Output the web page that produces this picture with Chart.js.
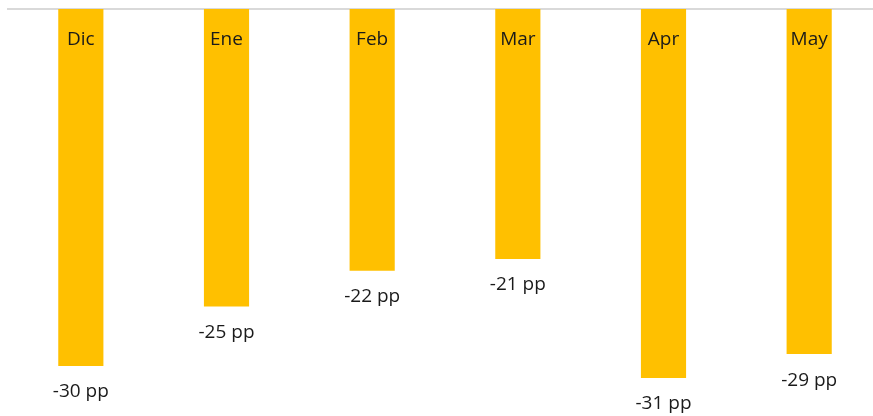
<!DOCTYPE html>
<html>
<head>
<meta charset="utf-8">
<script src="https://cdn.jsdelivr.net/npm/chart.js@4.4.0/dist/chart.umd.min.js"></script>
<style>
  html, body { margin: 0; padding: 0; background: #fff; overflow: hidden; }
  #wrap { width: 882px; height: 416px; }
</style>
</head>
<body>
<div id="wrap"><canvas id="gapChart"></canvas></div>
<script>
const months = ["Dic", "Ene", "Feb", "Mar", "Apr", "May"];
const gapValues = [-30, -25, -22, -21, -31, -29];
const valueLabels = ["-30 pp", "-25 pp", "-22 pp", "-21 pp", "-31 pp", "-29 pp"];

// etiquetas: mes arriba dentro de la barra, valor debajo del extremo
const barLabels = {
  id: "barLabels",
  afterDatasetsDraw(chart) {
    const c = chart.ctx;
    const bars = chart.getDatasetMeta(0).data;
    c.save();
    c.fillStyle = "#1a1a1a";
    c.textAlign = "center";
    c.textBaseline = "middle";
    c.font = "19px 'Open Sans'";
    bars.forEach((bar, i) => {
      c.fillText(months[i], bar.x, chart.chartArea.top + 31);
      c.fillText(valueLabels[i], bar.x, bar.y + 26);
    });
    c.restore();
  }
};

const ctx = document.getElementById("gapChart").getContext("2d");
new Chart(ctx, {
  type: "bar",
  data: {
    labels: months,
    datasets: [{
      data: gapValues,
      backgroundColor: "#FFC000",
      categoryPercentage: 1,
      barPercentage: 0.31
    }]
  },
  options: {
    responsive: true,
    maintainAspectRatio: false,
    animation: false,
    layout: { padding: { top: 9, left: 8, right: 0, bottom: 0 } },
    plugins: { legend: { display: false }, tooltip: { enabled: false } },
    scales: {
      x: {
        position: "top",
        grid: { display: false, drawTicks: false, tickLength: 0 },
        border: { display: true, color: "#d9d9d9", width: 2 },
        ticks: { display: false, padding: 0 }
      },
      y: {
        min: -34.2,
        max: 0,
        display: false
      }
    }
  },
  plugins: [barLabels]
});
</script>
</body>
</html>
